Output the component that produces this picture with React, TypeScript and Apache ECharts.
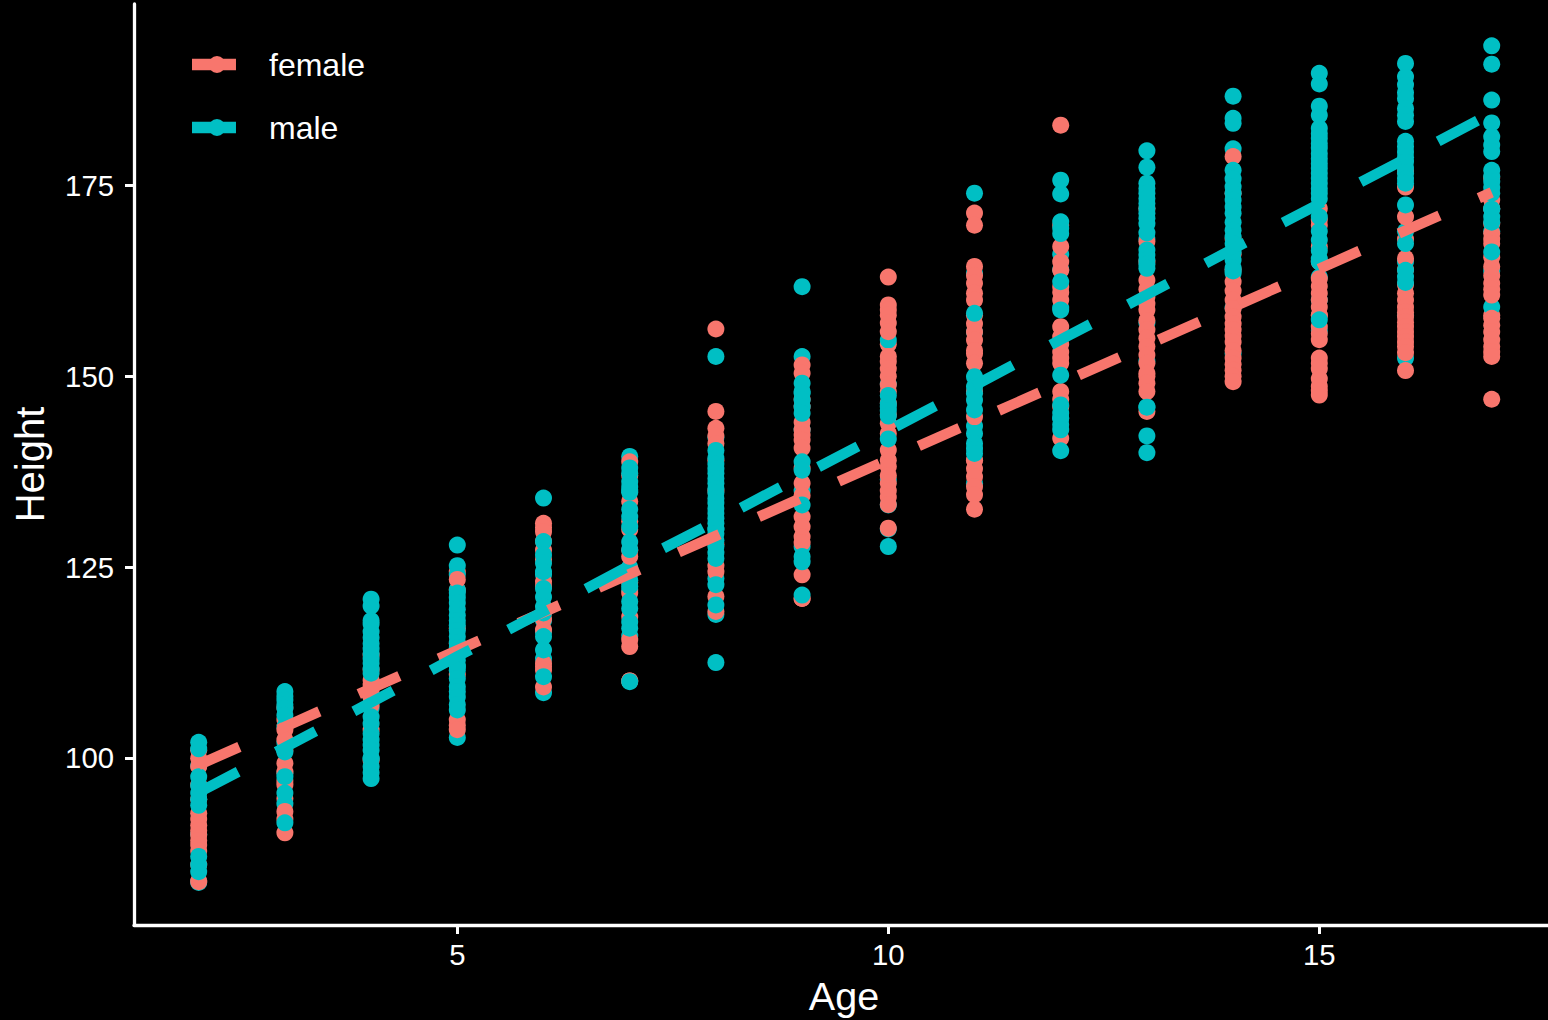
import React, { useEffect, useRef } from "react";
import * as echarts from "echarts";

const ages = [2, 3, 4, 5, 6, 7, 8, 9, 10, 11, 12, 13, 14, 15, 16, 17];
const xTicks = [5, 10, 15];
const yTicks = [100, 125, 150, 175];
const FEMALE = "#F8766D";
const MALE = "#00BFC4";

// Draw order is bottom to top: femaleUnder, maleMiddle, femaleOver, maleOver. One inner list per age.
const femaleUnder = [
  [83.9, 86, 96.5, 94.6, 101],
  [94.7, 97, 101, 105, 106.6],
  [113.5, 103.7, 99.7, 111.6, 108],
  [122, 115, 110.9, 124.4, 117],
  [126, 119, 112, 128.4, 122.5],
  [137, 123, 110.1, 127.2, 131],
  [139, 128, 125.2, 135],
  [138, 124, 120.9, 147, 146],
  [148, 145, 146.5, 154.2],
  [158, 148, 139, 153],
  [161.7, 156.5, 146, 169.8],
  [150, 145.4, 165, 172],
  [174, 168, 164, 166],
  [172, 165, 158, 170.5],
  [174.8, 168, 162, 176.8, 164],
  [176, 170, 158, 172],
];
const maleMiddle = [
  [83.7, 99, 90],
  [104.1, 98, 94, 102],
  [118, 108, 100, 106.5, 103.2],
  [102.7, 125.2, 122, 112, 124],
  [124, 118, 108.55, 113, 116.5],
  [139.5, 125, 135, 122, 116],
  [130, 123.5, 142, 118.8],
  [152.6, 143, 127.7, 135, 148],
  [154.75, 146, 133.15, 130, 136.5, 149],
  [163.5, 155.8, 143.5, 136],
  [164, 159, 144.5, 166],
  [168, 146, 152, 157],
  [179.8, 153, 159, 163.5],
  [165, 160, 163, 156],
  [152.4, 169, 165, 158],
  [172, 159.1, 169, 163.8],
];
const femaleOver = [
  [99.96, 98.9, 92.75, 92, 91.2, 90.5, 89.9, 89.2, 88.6, 87.8, 83.8],
  [103.7, 102.4, 99.3, 98.2, 96.5, 93, 92, 90.2],
  [110.2, 109.6, 108.9, 108, 106.9],
  [123.4, 105, 104.3, 103.7],
  [130.75, 130.2, 129.65, 127.25, 123.1, 116.8, 118.2, 112.4, 111.5, 109.3],
  [138.8, 133.6, 129.95, 126.4, 121.6, 118.5, 115.5, 114.6, 110.1],
  [156.2, 145.4, 143.2, 142.2, 141.2, 124.4, 121.15, 119.2],
  [151.5, 150.4, 144, 143, 142.3, 141.65, 140.6, 136, 134.4, 131.6, 130.3, 129, 128.2, 120.9],
  [163, 159.35, 158.7, 158, 157, 155.85, 152.6, 151.9, 151, 150, 148.9, 143.85, 142.5, 140.35, 139, 138.2, 137, 136, 135, 134.2, 133.2, 130.1],
  [171.4, 169.8, 164.4, 163.2, 162.2, 160.9, 160, 156.9, 155.8, 154.75, 153.4, 151.7, 144.7, 139, 137.9, 136.85, 135.55, 134.5, 132.6],
  [182.9, 167, 165, 163.9, 161, 160, 155.2, 154.2, 153.2, 152.4, 151.7, 148, 147, 141.9],
  [167.65, 162.6, 161.4, 160.4, 159.5, 158.7, 157.3, 156.1, 155, 153.9, 152.8, 151.7, 150.4, 149.1, 148],
  [178.8, 162.4, 161.2, 160, 158.9, 157.8, 156.9, 156.1, 155.3, 154.5, 153.4, 152.4, 151.6, 150.8, 150, 149.3],
  [169.8, 167, 162.8, 161.8, 160.9, 160, 159.1, 158, 156.5, 155.6, 154.8, 152.4, 151.7, 151, 149.7, 148.7, 148.1, 147.55],
  [170.9, 165.45, 160.9, 160, 159.1, 158.4, 157.8, 157.1, 156.5, 155.8, 155.2, 154.5, 153.9, 153.1, 150.75],
  [173.1, 168.75, 168, 167.4, 165.6, 164.4, 163.2, 162.2, 161.4, 160.65, 157.6, 156.7, 155.8, 154.8, 153.9, 153.2, 152.6, 147],
];
const maleOver = [
  [102.05, 101.2, 97.55, 96.4, 95.4, 94.6, 93.8, 87.1, 86, 85.1],
  [108.7, 108.1, 107.6, 107, 106.5, 105.6, 100.8, 97.55, 95.4, 91.5],
  [120.8, 119.9, 117.55, 116.55, 115.8, 115, 114.3, 113.7, 113, 112.4, 111.7, 111.1, 105.4, 104.5, 102.4, 101.7, 101, 99.9, 98.9, 98.1, 97.3],
  [127.9, 121.6, 121, 120.3, 119.5, 118.7, 118, 117.4, 116.7, 115.9, 115.1, 114.4, 113.6, 112.8, 112.1, 111.5, 110.4, 109.35, 108.7, 108, 107, 106.3],
  [134.05, 128.35, 126.6, 125.5, 124.4, 122.2, 121.1, 119.8, 119, 115.9, 114.15, 110.65],
  [138, 137.3, 136.2, 135.5, 134.8, 132.6, 131.6, 130.3, 128.3, 127.3, 124.2, 123.3, 122.5, 120.5, 119.6, 117.8, 117, 110],
  [152.6, 140.3, 139.3, 138.5, 137.9, 137.3, 136.6, 136, 135.3, 134.7, 134, 133.4, 132.7, 132.05, 131.4, 130.75, 130, 129.4, 128.5, 127.7, 126.9, 126.15, 122.7, 120.05, 112.5],
  [161.75, 149.1, 147.8, 146.9, 146, 145.15, 138.8, 137.7, 133.15, 126.4, 125.7, 121.35],
  [147.5, 146.45, 145.5, 144.8, 141.8, 127.7],
  [174, 158.25, 149.95, 148.65, 147.8, 146.9, 145.6, 142.5, 141.2, 140.5, 139.9],
  [175.7, 173.9, 170.25, 169.4, 168.7, 162.4, 158.7, 150.15, 146.25, 145.2, 144.5, 143.7, 143, 140.25],
  [179.55, 177.4, 175.3, 174.6, 174, 173.3, 172.65, 172, 171.35, 170.7, 170, 168.8, 166.55, 165.9, 165.25, 164.7, 164.15, 145.95, 142.2, 140],
  [186.7, 183.8, 183.15, 177, 175.9, 174.85, 174, 173.1, 172.2, 171.35, 170.2, 169.15, 168.3, 167.4, 166.3, 165.25, 164.2, 163.8],
  [189.7, 188.3, 185.4, 184.2, 182.5, 181.8, 181.2, 180.5, 179.9, 179.2, 178.55, 177.9, 177.25, 176.6, 175.95, 175.3, 174.6, 174, 173.3, 170.9, 169, 167.85, 166.5, 165.4, 157.4],
  [191, 189.25, 188.2, 187.2, 186.4, 185.1, 184.2, 183.4, 180.8, 180.1, 179.4, 178.7, 178.1, 177.3, 176.6, 175.9, 175.3, 172.45, 167.4, 163.9, 163.05, 162.3],
  [193.3, 190.9, 186.2, 183.2, 181.4, 180.3, 179.45, 177, 176.2, 175.5, 174.7, 174, 171.9, 170.9, 170.2, 166.3],
];
const femaleFit = [99.1, 104.1, 109.1, 114.1, 119.1, 124.1, 129.1, 134.1, 139.1, 144.1, 149.1, 154.1, 159.1, 164.1, 169.1, 174.1];
const maleFit = [95.5, 101.4, 107.3, 113.3, 119.2, 125.2, 131, 137, 142.9, 148.8, 154.8, 160.7, 166.7, 172.6, 178.5, 184.5];

const rows = (layer: number[][]) =>
  layer.flatMap((heights, i) => heights.map((h) => [ages[i], h]));

const legendIcon =
  "path://M0 2.65H18.83A8.5 8.5 0 0 1 31.17 2.65H44V14.35H31.17A8.5 8.5 0 0 1 18.83 14.35H0Z";

const FONT = "'Liberation Sans', Arial, sans-serif";

export default function App() {
  const ref = useRef<HTMLDivElement>(null);
  useEffect(() => {
    const chart = echarts.init(ref.current!, undefined, { renderer: "svg" });
    const scatter = (name: string, color: string, layer: number[][]) => ({
      name,
      type: "scatter",
      data: rows(layer),
      symbol: "circle",
      symbolSize: 17,
      itemStyle: { color, opacity: 1 },
      clip: false,
    });
    const fit = (name: string, color: string, values: number[]) => ({
      name,
      type: "line",
      data: values.map((v, i) => [ages[i], v]),
      showSymbol: false,
      symbol: "none",
      itemStyle: { color },
      lineStyle: { color, width: 10.5, type: [44.5, 43], cap: "butt" },
      clip: false,
    });
    chart.setOption({
      animation: false,
      backgroundColor: "#000000",
      textStyle: { fontFamily: FONT },
      grid: { left: 134, top: 4, width: 1414, height: 921, containLabel: false, outerBoundsMode: "none" },
      legend: {
        orient: "vertical",
        left: 192,
        top: 48.5,
        padding: 0,
        itemWidth: 44,
        itemHeight: 17,
        itemGap: 31,
        icon: legendIcon,
        data: ["female", "male"],
        textStyle: {
          color: "#FFFFFF",
          fontFamily: FONT,
          fontSize: 32,
          lineHeight: 32,
          padding: [0, 0, 0, 28],
        },
      },
      xAxis: {
        type: "value",
        min: 1.2494,
        max: 17.653,
        name: "Age",
        nameLocation: "middle",
        nameGap: 51,
        nameTextStyle: { color: "#FFFFFF", fontSize: 39.5, fontFamily: FONT, padding: [0, 0, 0, 6] },
        splitLine: { show: false },
        axisLine: { show: true, lineStyle: { color: "#FFFFFF", width: 3.3 } },
        axisTick: { show: true, length: 9, lineStyle: { color: "#FFFFFF", width: 3 }, customValues: xTicks },
        axisLabel: { color: "#FFFFFF", fontSize: 29.3, fontFamily: FONT, margin: 15, customValues: xTicks },
      },
      yAxis: {
        type: "value",
        min: 78.12,
        max: 198.78,
        name: "Height",
        nameLocation: "middle",
        nameGap: 84,
        nameTextStyle: { color: "#FFFFFF", fontSize: 40, fontFamily: FONT },
        splitLine: { show: false },
        axisLine: { show: true, lineStyle: { color: "#FFFFFF", width: 3.3 } },
        axisTick: { show: true, length: 9, lineStyle: { color: "#FFFFFF", width: 3 }, customValues: yTicks },
        axisLabel: { color: "#FFFFFF", fontSize: 29.3, fontFamily: FONT, margin: 20, customValues: yTicks },
      },
      series: [
        scatter("female", FEMALE, femaleUnder),
        scatter("male", MALE, maleMiddle),
        scatter("female", FEMALE, femaleOver),
        scatter("male", MALE, maleOver),
        fit("female", FEMALE, femaleFit),
        fit("male", MALE, maleFit),
      ],
    });
    return () => chart.dispose();
  }, []);
  return (
    <div
      ref={ref}
      style={{ position: "fixed", left: 0, top: 0, width: 1548, height: 1020, background: "#000" }}
    />
  );
}
